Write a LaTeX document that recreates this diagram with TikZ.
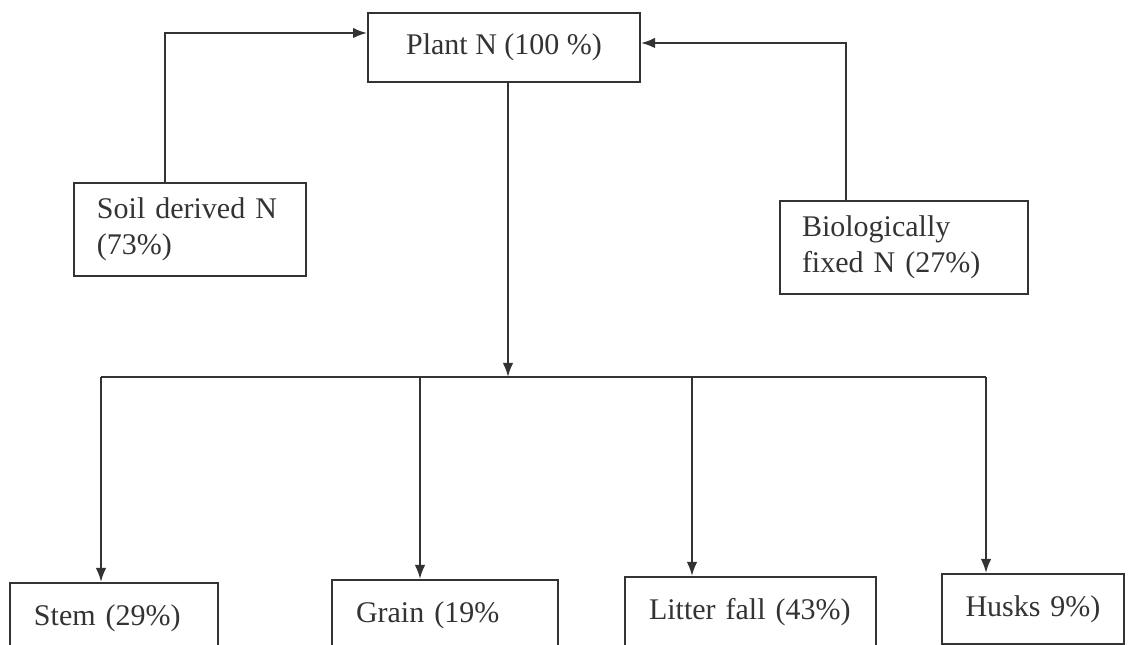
\documentclass[tikz,border=0pt]{standalone}
\usepackage{fontspec}
\setmainfont{Liberation Serif}
\usepackage{xcolor}
\usetikzlibrary{calc}
\usetikzlibrary{arrows.meta}
\definecolor{inkcolor}{rgb}{0.2,0.2,0.2}

\begin{document}
\begin{tikzpicture}[x=0.4pt, y=-0.4pt, >={Latex[length=5.6pt,width=4.2pt]},
  every node/.style={font=\fontsize{12}{14.2}\selectfont, text=inkcolor},
  pool/.style={draw=inkcolor, line width=0.8pt, align=left, minimum height=37.2pt, inner xsep=9pt, text width=#1},
  part/.style={draw=inkcolor, line width=0.8pt, anchor=north west, align=left, minimum height=28pt, inner xsep=9.6pt, text width=#1},
  flow/.style={->, draw=inkcolor, line width=0.8pt}]
  \clip (0,0) rectangle (1128,645);

  % Nitrogen pools
  \node[draw=inkcolor, line width=0.8pt, minimum width=108.8pt, minimum height=27.6pt] (plant) at (504,47.5) {Plant N (100 \%)};
  \node[pool=74.4pt] (soil) at (190,229.5) {Soil derived N\\(73\%)};
  \node[pool=81.2pt] (bio) at (903.5,247.5) {Biologically\\fixed N (27\%)};

  % Plant parts
  \node[part=64pt] (stem) at (9,582) {Stem (29\%)};
  \node[part=71.2pt] (grain) at (331,579) {Grain (19\%};
  \node[part=81.2pt] (litter) at (624,576) {Litter fall (43\%)};
  \node[part=62pt, inner xsep=5.4pt] (husks) at (941,573) {\hspace*{4pt}Husks 9\%)};

  \coordinate (soilturn) at (165,33);
  \coordinate (bioturn) at (846,43);
  \coordinate (split) at (508,377);
  \coordinate (railL) at (101,377);
  \coordinate (grainfork) at (420,377);
  \coordinate (litterfork) at (692,377);
  \coordinate (railR) at (986,377);

  % Uptake into the plant
  \draw[flow] (soil.north -| soilturn) -- (soilturn) -- (plant.west |- soilturn);
  \draw[flow] (bio.north -| bioturn) -- (bioturn) -- (plant.east |- bioturn);

  % Partitioning to the parts
  \draw[flow] (plant.south -| split) -- (split);
  \draw[draw=inkcolor, line width=0.8pt] (railL) -- (railR);
  \foreach \fork/\leaf in {railL/stem, grainfork/grain, litterfork/litter, railR/husks}
    \draw[flow] (\fork) -- (\leaf.north -| \fork);
\end{tikzpicture}
\end{document}
